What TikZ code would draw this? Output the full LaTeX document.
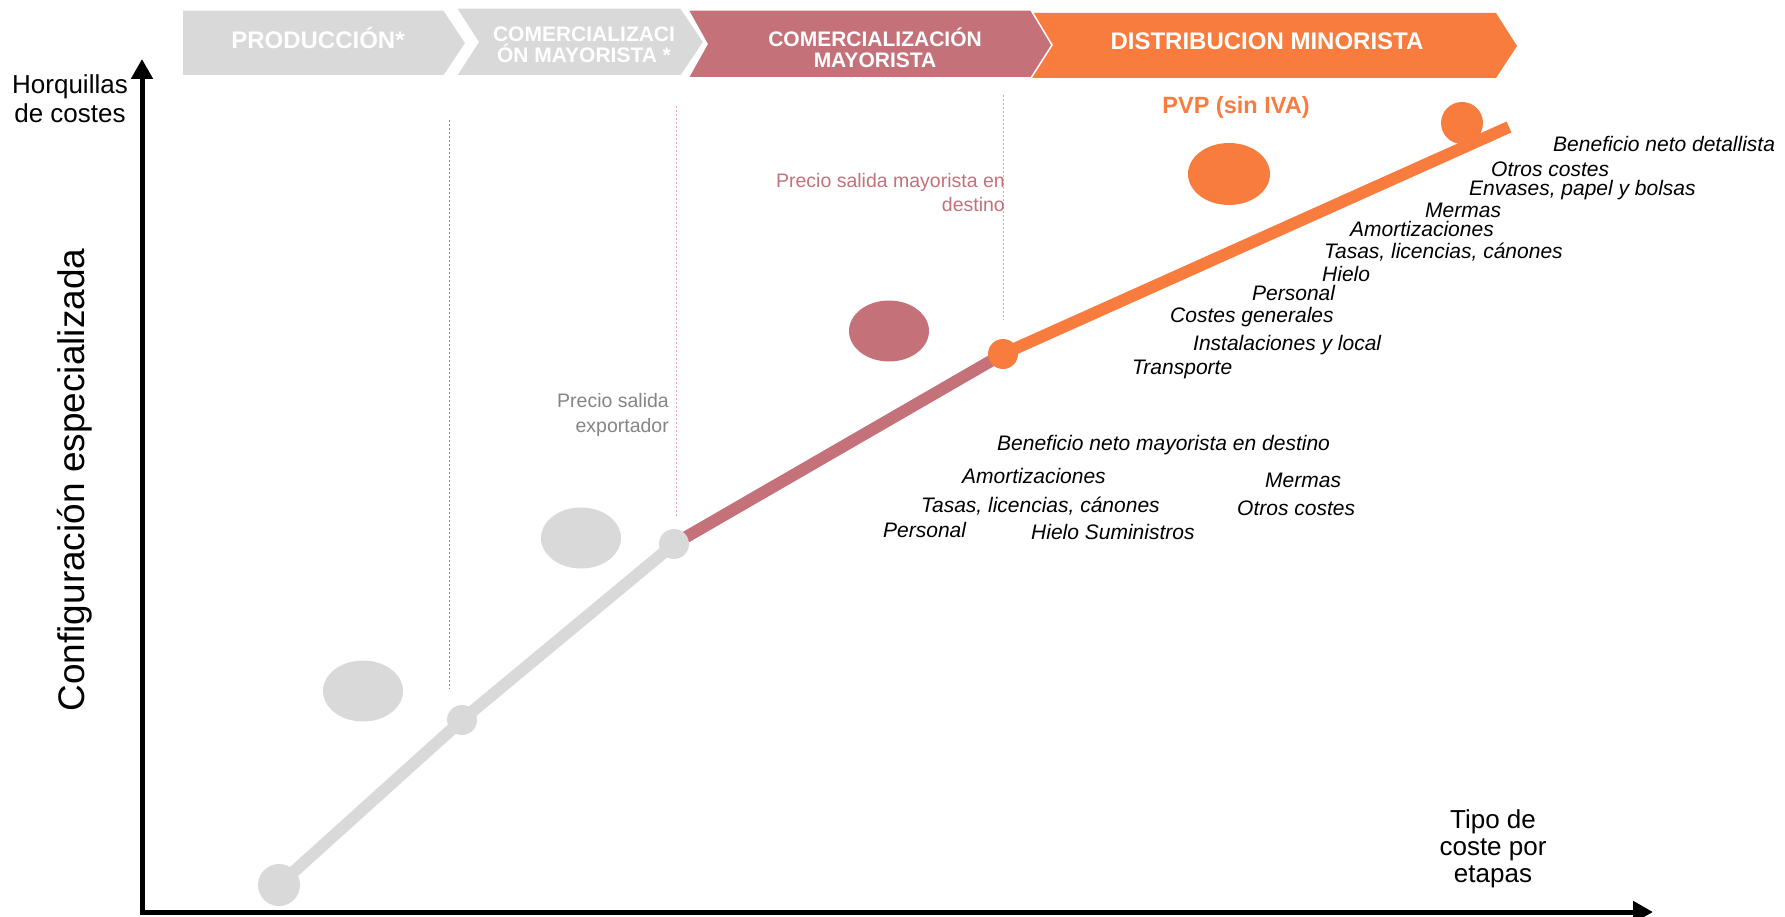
\documentclass[tikz,border=0pt]{standalone}
\usepackage{fontspec}
\setmainfont{Liberation Sans}
\usetikzlibrary{arrows.meta,shapes.geometric}
\definecolor{cgray}{HTML}{D9D9D9}
\definecolor{cmauve}{HTML}{C4717A}
\definecolor{corange}{HTML}{F97C3F}
\definecolor{ctext}{HTML}{858585}
\definecolor{dotA}{HTML}{B070B8}
\definecolor{dotB}{HTML}{E8A2B0}
\definecolor{dotC}{HTML}{E0B070}
\begin{document}
\begin{tikzpicture}[x=1pt,y=-1pt,
  banner/.style={draw=white,line width=1.5pt,line join=miter},
  btext/.style={text=white,font=\bfseries\fontsize{21}{21}\selectfont,align=center,inner sep=0},
  btextbig/.style={text=white,font=\bfseries\fontsize{24}{24}\selectfont,inner sep=0},
  lbl/.style={font=\itshape\fontsize{21}{25}\selectfont,anchor=base west,inner sep=0},
  axisline/.style={line width=5pt,-{Triangle[length=20pt,width=21pt]}},
  guide/.style={line width=1pt,dash pattern=on 2pt off 2pt},
  track/.style={line width=12pt,line join=round},
  dotnode/.style={circle,inner sep=0,draw=none},
  blob/.style={ellipse,inner sep=0,draw=none,minimum width=80pt,minimum height=61pt}
]
\fill[white] (0,0) rectangle (1785,917);
\useasboundingbox (0,0) rectangle (1785,917);

% banners
\fill[cgray,banner] (182,10) -- (444,10) -- (466,43) -- (444,76) -- (182,76) -- cycle;
\fill[cgray,banner] (456,8) -- (681,8) -- (704,42) -- (681,76) -- (456,76) -- (478,42) -- cycle;
\fill[corange] (1031,13) -- (1496,13) -- (1517,46) -- (1496,78) -- (1031,78) -- (1052,46) -- cycle;
\fill[cmauve,banner] (688,10) -- (1031,10) -- (1052,45) -- (1031,78) -- (688,78) -- (707,44) -- cycle;
\node[btextbig] (b1) at (318,38) {PRODUCCIÓN*};
\node[btext] (b2) at (584,45) {COMERCIALIZACI\\ÓN MAYORISTA *};
\node[btext] (b3) at (875,48) {COMERCIALIZACIÓN\\MAYORISTA};
\node[btextbig] (b4) at (1267,41) {DISTRIBUCION MINORISTA};

% axes
\coordinate (origin) at (142,912);
\coordinate (ytop) at (142,59);
\coordinate (xend) at (1653,912);
\draw[axisline] (142,914.5) -- (ytop);
\draw[axisline] (139.5,912) -- (xend);
\node[font=\fontsize{26}{29}\selectfont,align=center,inner sep=0] (ylab2) at (70,99) {Horquillas\\de costes};
\node[font=\fontsize{37}{37}\selectfont,rotate=90,inner sep=0] (ylab) at (75,480) {Configuración especializada};
\node[font=\fontsize{26}{27}\selectfont,align=center,inner sep=0] (xlab) at (1493,849) {Tipo de\\coste por\\etapas};

% guide lines
\coordinate (g1a) at (449,120); \coordinate (g1b) at (449,689);
\coordinate (g2a) at (676,106); \coordinate (g2b) at (676,518);
\coordinate (g3a) at (1003,95); \coordinate (g3b) at (1003,320);
\draw[guide,dotA] (g1a) -- (g1b);
\draw[guide,dotB] (g2a) -- (g2b);
\draw[guide,dotC] (g3a) -- (g3b);

% track
\coordinate (c1) at (279,885);
\coordinate (c2) at (462,720);
\coordinate (c3) at (674,544);
\coordinate (c4) at (1003,354);
\coordinate (c5) at (1509,127);
\draw[track,cgray] (c1) -- (c2) -- (c3);
\draw[track,cmauve] (c3) -- (c4);
\node[dotnode,fill=corange,minimum size=42pt] (p5) at (1462,123) {};
\draw[track,corange] (c4) -- (c5);
\node[dotnode,fill=cgray,minimum size=42pt] (p1) at (c1) {};
\node[dotnode,fill=cgray,minimum size=30pt] (p2) at (c2) {};
\node[dotnode,fill=cgray,minimum size=30pt] (p3) at (c3) {};
\node[dotnode,fill=corange,minimum size=30pt] (p4) at (c4) {};

% blobs
\node[blob,fill=cgray] (e1) at (363,691) {};
\node[blob,fill=cgray] (e2) at (581,538) {};
\node[blob,fill=cmauve] (e3) at (889,331) {};
\node[blob,fill=corange,minimum width=82pt,minimum height=62pt] (e4) at (1229,174) {};

% price labels
\node[text=ctext,font=\fontsize{19.5}{25}\selectfont,align=right,anchor=east,inner sep=0] (pexp) at (669,415) {Precio salida\\exportador};
\node[text=cmauve,font=\fontsize{19.5}{24}\selectfont,align=right,anchor=east,inner sep=0] (pmay) at (1005,193) {Precio salida mayorista en\\destino};
\node[text=corange,font=\bfseries\fontsize{23.5}{23.5}\selectfont,inner sep=0] (pvp) at (1236,107) {PVP (sin IVA)};

% retail cost labels
\node[lbl] (r1) at (1553,152) {Beneficio neto detallista};
\node[lbl] (r2) at (1491,177) {Otros costes};
\node[lbl] (r3) at (1469,196) {Envases, papel y bolsas};
\node[lbl] (r4) at (1425,218) {Mermas};
\node[lbl] (r5) at (1350,237) {Amortizaciones};
\node[lbl] (r6) at (1324,259) {Tasas, licencias, cánones};
\node[lbl] (r7) at (1322,282) {Hielo};
\node[lbl] (r8) at (1252,301) {Personal};
\node[lbl] (r9) at (1170,322) {Costes generales};
\node[lbl] (r10) at (1193,350) {Instalaciones y local};
\node[lbl] (r11) at (1132,374) {Transporte};

% wholesale cost labels
\node[lbl] (w1) at (997,450) {Beneficio neto mayorista en destino};
\node[lbl] (w2) at (962,483) {Amortizaciones};
\node[lbl] (w3) at (1265,487) {Mermas};
\node[lbl] (w4) at (921,512) {Tasas, licencias, cánones};
\node[lbl] (w5) at (1237,515) {Otros costes};
\node[lbl] (w6) at (883,537) {Personal};
\node[lbl] (w7) at (1031,539) {Hielo Suministros};
\end{tikzpicture}
\end{document}
